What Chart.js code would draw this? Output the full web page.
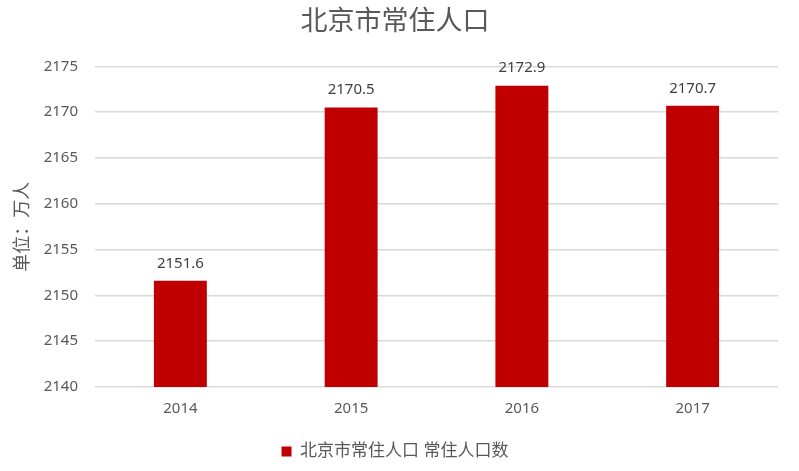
<!DOCTYPE html>
<html>
<head>
<meta charset="utf-8">
<script src="https://cdn.jsdelivr.net/npm/chart.js@4/dist/chart.umd.min.js"></script>
<style>
  body { margin: 0; background: #fff; }
  canvas { display: block; }
</style>
</head>
<body>
<canvas id="popChart" width="799" height="471"></canvas>
<script>
// data
const years = ['2014', '2015', '2016', '2017'];
const population = [2151.6, 2170.5, 2172.9, 2170.7];
const yTicks = [2140, 2145, 2150, 2155, 2160, 2165, 2170, 2175];

const fontFam = '"Noto Sans", "Noto Sans CJK SC", sans-serif';

// value labels above each bar
const barLabels = {
    id: 'barLabels',
    afterDatasetsDraw(chart) {
        const ctx = chart.ctx;
        const meta = chart.getDatasetMeta(0);
        ctx.save();
        ctx.font = '15px ' + fontFam;
        ctx.fillStyle = '#404040';
        ctx.textAlign = 'center';
        ctx.textBaseline = 'bottom';
        meta.data.forEach((bar, i) => {
            ctx.fillText(population[i].toFixed(1), bar.x, bar.y - 10);
        });
        ctx.restore();
    }
};

const ctx = document.getElementById('popChart').getContext('2d');
const popChart = new Chart(ctx, {
    type: 'bar',
    data: {
        labels: years,
        datasets: [{
            label: '北京市常住人口 常住人口数',
            data: population,
            backgroundColor: '#C00000',
            borderWidth: 0,
            barPercentage: 0.31,
            categoryPercentage: 1
        }]
    },
    options: {
        responsive: false,
        animation: false,
        layout: { padding: { left: 12, right: 21, top: 0, bottom: 1 } },
        plugins: {
            title: {
                display: true,
                text: '北京市常住人口',
                color: '#595959',
                font: { family: fontFam, size: 27, weight: 'normal' },
                padding: { top: 6, bottom: 28 }
            },
            legend: {
                position: 'bottom',
                labels: {
                    color: '#595959',
                    font: { family: fontFam, size: 17 },
                    boxWidth: 10,
                    boxHeight: 10,
                    padding: 12
                }
            },
            tooltip: { enabled: false }
        },
        scales: {
            x: {
                grid: { display: false, drawTicks: false },
                border: { display: false },
                ticks: {
                    color: '#595959',
                    font: { family: fontFam, size: 15 },
                    padding: 13
                }
            },
            y: {
                min: 2140,
                max: 2175,
                afterBuildTicks: axis => {
                    axis.ticks = yTicks.map(v => ({ value: v }));
                },
                grid: { color: '#D9D9D9', lineWidth: 1.5, drawTicks: false },
                border: { display: false },
                ticks: {
                    color: '#595959',
                    font: { family: fontFam, size: 15 },
                    padding: 17,
                    callback: v => String(v)
                },
                title: {
                    display: true,
                    text: '单位：万人',
                    color: '#595959',
                    font: { family: fontFam, size: 18 },
                    padding: { top: 0, bottom: 4 }
                },
                afterFit: axis => { axis.width = 83; }
            }
        }
    },
    plugins: [barLabels]
});
</script>
</body>
</html>
